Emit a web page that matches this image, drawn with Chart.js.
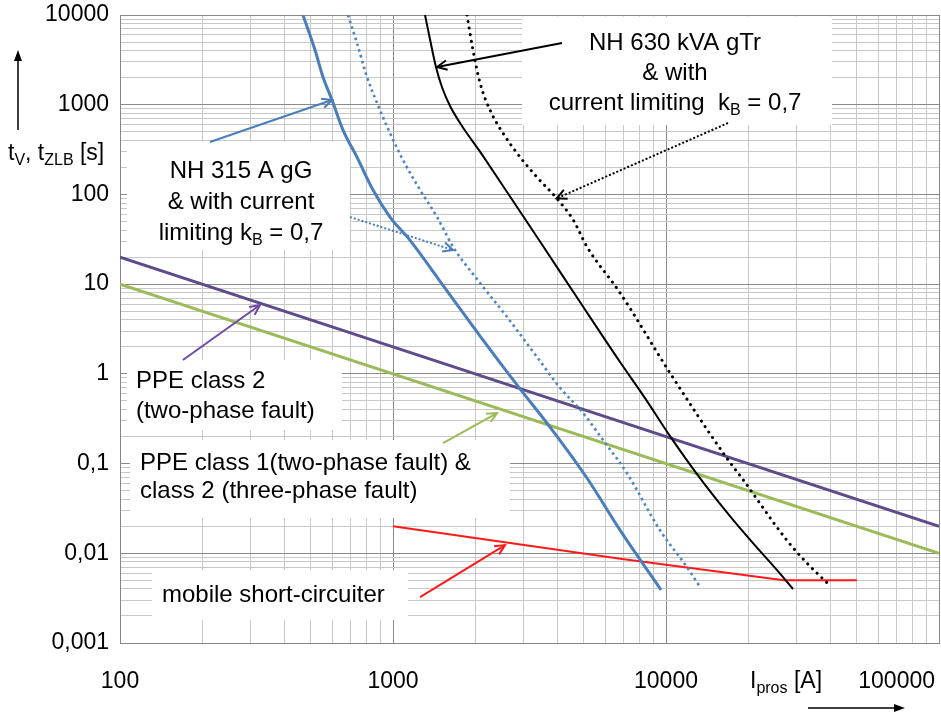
<!DOCTYPE html>
<html>
<head>
<meta charset="utf-8">
<script src="https://cdn.jsdelivr.net/npm/chart.js@4.4.1/dist/chart.umd.min.js"></script>
<style>
  html, body { margin: 0; padding: 0; background: #fff; }
  #wrap { width: 941px; height: 713px; }
</style>
</head>
<body>
<div id="wrap"><canvas id="chart" width="941" height="713"></canvas></div>
<script>
// tick labels (decimal comma as in the original)
const xTickValues = [100, 1000, 10000, 100000];
const xTickLabels = ['100', '1000', '10000', '100000'];
const yTickValues = [0.001, 0.01, 0.1, 1, 10, 100, 1000, 10000];
const yTickLabels = ['0,001', '0,01', '0,1', '1', '10', '100', '1000', '10000'];

// NH 315 A gG
const fuse315I = [468, 518, 554, 598, 656, 738, 845, 975, 1153, 1550, 2084, 2920, 3760, 5134, 6787, 9587];
const fuse315T = [10000, 4070, 2040, 1128, 522, 261, 112, 56, 31, 9.05, 2.64, 0.68, 0.255, 0.069, 0.0181, 0.0039];
// NH 315 A gG with current limiting kB = 0,7
const fuse315LimI = [684, 738, 803, 874, 975, 1088, 1257, 1450, 1660, 2084, 2618, 3369, 4090, 4966, 5880, 7197, 9510, 11940, 13330];
const fuse315LimT = [10000, 4870, 2040, 1045, 483, 242, 112, 56, 26, 10.3, 4.3, 1.54, 0.7, 0.366, 0.183, 0.078, 0.018, 0.007, 0.0042];
// NH 630 kVA gTr
const fuse630I = [1310, 1368, 1437, 1511, 1618, 1789, 2101, 2487, 2944, 3485, 4842, 6787, 8377, 10343, 13320, 17150, 20830, 25510, 29190];
const fuse630T = [10000, 5260, 2630, 1575, 967, 579, 289, 134, 62, 28.7, 6.32, 1.354, 0.537, 0.2025, 0.0689, 0.026, 0.013, 0.0065, 0.004];
// NH 630 kVA gTr with current limiting kB = 0,7
const fuse630LimI = [1866, 1963, 2084, 2266, 2528, 2920, 3360, 3978, 4575, 5136, 6794, 10350, 16700, 18960, 27700, 32800, 40100];
const fuse630LimT = [10000, 4070, 1747, 873, 483, 261, 157, 90.5, 51.8, 26.1, 7.96, 1.02, 0.115, 0.069, 0.014, 0.0078, 0.0043];
// PPE class 2 (two-phase fault)
const ppe2I = [100, 100000];
const ppe2T = [20, 0.02];
// PPE class 1 (two-phase fault) & class 2 (three-phase fault)
const ppe1I = [100, 100000];
const ppe1T = [10, 0.01];
// mobile short-circuiter
const mscI = [1000, 6800, 27000, 50000];
const mscT = [0.02, 0.0087, 0.005, 0.005];

const BLUE = '#4a7ebb';
const BLUE_DOT = '#4f84c2';
const PURPLE = '#5e4b8a';
const GREEN = '#9bbb59';
const RED = '#ff1a1a';
const FONT = '"Liberation Sans", Arial, sans-serif';

// text boxes: [xMin, yMax, xMax, yMin] in data units, text anchor in data units
const callouts = [
  { box: [2968, 9600, 40550, 594], at: [10790, 4072], align: 'center', gap: 30,
    lines: ['NH 630 kVA gTr', '& with', 'current limiting  k_{B} = 0,7'] },
  { box: [106, 384, 696, 24], at: [277.5, 152.3], align: 'center', gap: 31,
    lines: ['NH 315 A gG', '& with current', 'limiting k_{B} = 0,7'] },
  { box: [106, 1.425, 650, 0.236], at: [114.4, 0.6947], align: 'left', gap: 30,
    lines: ['PPE class 2', '(two-phase fault)'] },
  { box: [108.8, 0.183, 2683, 0.0247], at: [118.4, 0.08463], align: 'left', gap: 28,
    lines: ['PPE class 1(two-phase fault) &', 'class 2 (three-phase fault)'] },
  { box: [131, 0.0065, 1134, 0.0018], at: [142.5, 0.002858], align: 'left', gap: 30,
    lines: ['mobile short-circuiter'] }
];
const pointers = [
  { from: [4160, 4874], to: [1450, 2633], color: '#000', dash: [] },
  { from: [16870, 625], to: [3978, 90.5], color: '#000', dash: [2, 2] },
  { from: [213.6, 384], to: [598, 1128], color: BLUE, dash: [] },
  { from: [696, 56], to: [1659, 24], color: BLUE, dash: [2, 2] },
  { from: [170, 1.425], to: [325.6, 5.85], color: '#7048a8', dash: [] },
  { from: [1525, 0.169], to: [2404, 0.366], color: GREEN, dash: [] },
  { from: [1256, 0.00325], to: [2572, 0.01234], color: RED, dash: [] }
];

function pts(xs, ys) {
  return xs.map((x, i) => ({ x: x, y: ys[i] }));
}

// 1..9 x 10^n grid for a log axis
function logTicks(min, max) {
  const ticks = [];
  for (let e = Math.round(Math.log10(min)); e < Math.round(Math.log10(max)); e++) {
    for (let k = 1; k < 10; k++) {
      ticks.push({ value: +(k * Math.pow(10, e)).toPrecision(6), major: k === 1 });
    }
  }
  ticks.push({ value: max, major: true });
  return ticks;
}

// draws text with _{sub} parts
function richText(ctx, str, x, y, align, size) {
  const subSize = Math.round(size * 0.68);
  const parts = [];
  str.split(/(_\{[^}]*\})/).forEach(s => {
    if (!s) return;
    if (s.startsWith('_{')) parts.push({ t: s.slice(2, -1), sub: true });
    else parts.push({ t: s, sub: false });
  });
  let w = 0;
  parts.forEach(p => {
    ctx.font = (p.sub ? subSize : size) + 'px ' + FONT;
    p.w = ctx.measureText(p.t).width;
    w += p.w;
  });
  let cx = align === 'center' ? x - w / 2 : align === 'right' ? x - w : x;
  ctx.textAlign = 'left';
  ctx.textBaseline = 'alphabetic';
  parts.forEach(p => {
    ctx.font = (p.sub ? subSize : size) + 'px ' + FONT;
    ctx.fillText(p.t, cx, p.sub ? y + size * 0.22 : y);
    cx += p.w;
  });
  return w;
}

function arrow(ctx, x1, y1, x2, y2, color, dash) {
  ctx.save();
  ctx.strokeStyle = color;
  ctx.lineWidth = 2;
  ctx.setLineDash(dash);
  ctx.beginPath();
  ctx.moveTo(x1, y1);
  ctx.lineTo(x2, y2);
  ctx.stroke();
  ctx.setLineDash([]);
  const a = Math.atan2(y2 - y1, x2 - x1);
  const len = 11, spread = 0.45;
  ctx.beginPath();
  ctx.moveTo(x2 - len * Math.cos(a - spread), y2 - len * Math.sin(a - spread));
  ctx.lineTo(x2, y2);
  ctx.lineTo(x2 - len * Math.cos(a + spread), y2 - len * Math.sin(a + spread));
  ctx.stroke();
  ctx.restore();
}

const annotations = {
  id: 'annotations',
  beforeDatasetsDraw(chart) {
    const { ctx, scales: { x, y } } = chart;
    ctx.save();
    ctx.fillStyle = '#fff';
    callouts.forEach(c => {
      const x1 = x.getPixelForValue(c.box[0]), y1 = y.getPixelForValue(c.box[1]);
      const x2 = x.getPixelForValue(c.box[2]), y2 = y.getPixelForValue(c.box[3]);
      ctx.fillRect(x1, y1, x2 - x1, y2 - y1);
    });
    ctx.restore();
  },
  afterDatasetsDraw(chart) {
    const { ctx, scales: { x, y } } = chart;
    pointers.forEach(p => {
      arrow(ctx, x.getPixelForValue(p.from[0]), y.getPixelForValue(p.from[1]),
        x.getPixelForValue(p.to[0]), y.getPixelForValue(p.to[1]), p.color, p.dash);
    });
    ctx.save();
    ctx.fillStyle = '#000';
    callouts.forEach(c => {
      const tx = x.getPixelForValue(c.at[0]);
      const ty = y.getPixelForValue(c.at[1]);
      c.lines.forEach((line, i) => richText(ctx, line, tx, ty + i * c.gap, c.align, 24));
    });
    ctx.restore();
  },
  afterDraw(chart) {
    const { ctx, scales: { x } } = chart;
    ctx.save();
    ctx.fillStyle = '#000';
    ctx.font = '23px ' + FONT;
    ctx.textBaseline = 'alphabetic';
    ctx.textAlign = 'left';
    // x tick labels, last one kept inside the picture
    xTickValues.forEach((v, i) => {
      const w = ctx.measureText(xTickLabels[i]).width;
      let lx = x.getPixelForValue(v) - w / 2;
      lx = Math.min(lx, chart.width - w - 6);
      ctx.fillText(xTickLabels[i], lx, 688);
    });
    // axis titles
    richText(ctx, 'I_{pros} [A]', 750, 688, 'left', 23);
    richText(ctx, 't_{V}, t_{ZLB} [s]', 8, 160, 'left', 23);
    // axis arrows
    ctx.strokeStyle = '#000';
    ctx.lineWidth = 1.5;
    ctx.beginPath();
    ctx.moveTo(18, 130); ctx.lineTo(18, 58);
    ctx.moveTo(808, 708); ctx.lineTo(897, 708);
    ctx.stroke();
    ctx.beginPath();
    ctx.moveTo(18, 50); ctx.lineTo(14, 61); ctx.lineTo(22, 61); ctx.closePath();
    ctx.moveTo(905, 708); ctx.lineTo(894, 704); ctx.lineTo(894, 712); ctx.closePath();
    ctx.fill();
    ctx.restore();
  }
};

const gridColor = (c) => (c.tick && c.tick.major ? '#8a8a8a' : '#c8c8c8');

new Chart(document.getElementById('chart'), {
  type: 'line',
  data: {
    datasets: [
      { data: pts(fuse315I, fuse315T), borderColor: BLUE, borderWidth: 3 },
      { data: pts(fuse315LimI, fuse315LimT), borderColor: BLUE_DOT, borderWidth: 2.6, borderDash: [2.6, 3.4] },
      { data: pts(fuse630I, fuse630T), borderColor: '#000', borderWidth: 2 },
      { data: pts(fuse630LimI, fuse630LimT), borderColor: '#000', borderWidth: 3, borderDash: [0.1, 6.5], borderCapStyle: 'round' },
      { data: pts(ppe2I, ppe2T), borderColor: PURPLE, borderWidth: 3 },
      { data: pts(ppe1I, ppe1T), borderColor: GREEN, borderWidth: 3 },
      { data: pts(mscI, mscT), borderColor: RED, borderWidth: 2, cubicInterpolationMode: 'default', tension: 0 }
    ]
  },
  options: {
    responsive: false,
    animation: false,
    devicePixelRatio: 1,
    layout: { padding: { left: 0, top: 15, right: 2, bottom: 70 } },
    elements: {
      point: { radius: 0 },
      line: { cubicInterpolationMode: 'monotone', fill: false }
    },
    plugins: { legend: { display: false }, tooltip: { enabled: false } },
    scales: {
      x: {
        type: 'logarithmic',
        min: 100,
        max: 100000,
        afterBuildTicks: (s) => { s.ticks = logTicks(100, 100000); },
        grid: { color: gridColor, drawTicks: false },
        border: { color: '#868686' },
        ticks: { display: false }
      },
      y: {
        type: 'logarithmic',
        min: 0.001,
        max: 10000,
        afterBuildTicks: (s) => { s.ticks = logTicks(0.001, 10000); },
        afterFit: (s) => { s.width = 120; s.paddingTop = 0; s.paddingBottom = 0; },
        grid: { color: gridColor, drawTicks: false },
        border: { color: '#868686' },
        ticks: {
          autoSkip: false,
          padding: 11,
          color: '#000',
          font: { family: FONT, size: 23 },
          callback: (v) => {
            const i = yTickValues.indexOf(v);
            return i >= 0 ? yTickLabels[i] : '';
          }
        }
      }
    }
  },
  plugins: [annotations]
});
</script>
</body>
</html>
